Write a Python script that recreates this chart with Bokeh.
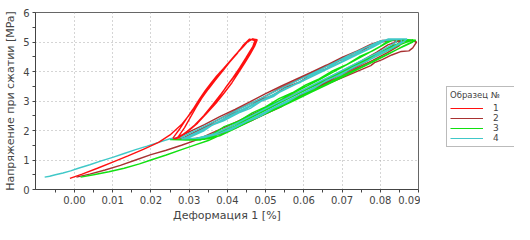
from bokeh.plotting import figure
from bokeh.layouts import row
from bokeh.models import Range1d, FixedTicker, PrintfTickFormatter, Legend, LegendItem
from bokeh.embed import file_html
from bokeh.resources import INLINE

# ---- data (strain %, stress MPa) ----
x1 = [-0.0012, 0.002, 0.006, 0.010, 0.014, 0.018, 0.022, 0.025, 0.028, 0.0305, 0.0325, 0.035, 0.0375, 0.040, 0.042, 0.0442, 0.0458, 0.0468,
      0.0475, 0.0462, 0.0448, 0.0432, 0.0415, 0.0398, 0.0378, 0.0358, 0.0336, 0.0310, 0.0285, 0.0262,
      0.0258, 0.0275, 0.0293, 0.0310, 0.0326, 0.0342, 0.0358, 0.0372, 0.0390, 0.0410, 0.0430, 0.0450, 0.0465,
      0.0478, 0.0472, 0.0460, 0.0446, 0.0430, 0.0412, 0.0392, 0.0370, 0.0346, 0.0322, 0.0298, 0.0275, 0.0265,
      0.0270, 0.0288, 0.0302, 0.0318, 0.0333, 0.0350, 0.0368, 0.0388, 0.0405, 0.0425, 0.0442, 0.0458,
      0.0472, 0.0466, 0.0453, 0.0438, 0.0422, 0.0404, 0.0384, 0.0362, 0.0338, 0.0314, 0.0290, 0.0270]
y1 = [0.38, 0.52, 0.72, 0.93, 1.14, 1.36, 1.60, 1.85, 2.20, 2.60, 3.00, 3.45, 3.85, 4.25, 4.55, 4.85, 5.08, 5.10,
      5.02, 4.75, 4.45, 4.12, 3.80, 3.50, 3.12, 2.78, 2.45, 2.12, 1.88, 1.72,
      1.75, 2.05, 2.40, 2.72, 3.05, 3.35, 3.62, 3.85, 4.10, 4.40, 4.70, 4.98, 5.10,
      5.08, 4.88, 4.60, 4.30, 3.98, 3.62, 3.28, 2.92, 2.58, 2.25, 1.98, 1.78, 1.72,
      1.76, 2.10, 2.42, 2.78, 3.10, 3.40, 3.70, 4.02, 4.30, 4.60, 4.90, 5.10,
      5.05, 4.82, 4.52, 4.20, 3.90, 3.60, 3.25, 2.88, 2.50, 2.18, 1.92, 1.75]

x2 = [0.0005, 0.004, 0.008, 0.012, 0.016, 0.020, 0.024, 0.028, 0.032, 0.036,
      0.040, 0.045, 0.050, 0.055, 0.060, 0.065, 0.070, 0.075, 0.079, 0.082, 0.085, 0.088, 0.0895,
      0.0885, 0.0875, 0.0855, 0.083, 0.0805, 0.0785, 0.0775, 0.0735, 0.0695, 0.0655, 0.061, 0.057, 0.054, 0.050, 0.046, 0.042, 0.038, 0.034, 0.030,
      0.027, 0.030, 0.034, 0.038, 0.042, 0.046, 0.050, 0.054, 0.058, 0.062, 0.066, 0.070, 0.074, 0.0775, 0.080, 0.0835, 0.086,
      0.085, 0.082, 0.078, 0.074, 0.070, 0.066, 0.062, 0.058, 0.054, 0.050, 0.046, 0.042, 0.038, 0.034, 0.030,
      0.029, 0.033, 0.037, 0.041, 0.045, 0.049, 0.053, 0.057, 0.061, 0.065, 0.069, 0.073, 0.077, 0.0805, 0.084,
      0.0835, 0.080, 0.076, 0.072, 0.068, 0.064, 0.060, 0.056, 0.052, 0.048, 0.044, 0.040, 0.036, 0.031,
      0.028, 0.031, 0.035, 0.038, 0.041, 0.045, 0.048, 0.052, 0.055, 0.059, 0.062, 0.066, 0.069, 0.073, 0.0765, 0.079, 0.0825, 0.0855,
      0.0845, 0.0815, 0.078, 0.0745, 0.071, 0.0675, 0.064, 0.0605, 0.057, 0.0535, 0.050, 0.0465, 0.043, 0.039, 0.035, 0.031]
y2 = [0.42, 0.52, 0.66, 0.82, 1.00, 1.18, 1.33, 1.50, 1.68, 1.92,
      2.15, 2.45, 2.77, 3.08, 3.38, 3.70, 4.02, 4.35, 4.65, 4.90, 5.04, 5.05, 5.00,
      4.80, 4.70, 4.68, 4.56, 4.40, 4.30, 4.20, 3.98, 3.76, 3.55, 3.30, 3.05, 2.80, 2.56, 2.32, 2.08, 1.88, 1.75, 1.71,
      1.75, 1.95, 2.20, 2.47, 2.72, 2.98, 3.25, 3.50, 3.74, 3.98, 4.22, 4.48, 4.70, 4.92, 5.03, 5.06, 5.02,
      4.88, 4.65, 4.38, 4.12, 3.85, 3.60, 3.34, 3.08, 2.82, 2.57, 2.32, 2.08, 1.88, 1.74, 1.72,
      1.78, 2.05, 2.33, 2.60, 2.85, 3.10, 3.38, 3.62, 3.88, 4.12, 4.38, 4.62, 4.88, 5.05, 5.05,
      4.90, 4.62, 4.32, 4.05, 3.78, 3.50, 3.24, 2.98, 2.72, 2.46, 2.20, 1.98, 1.80, 1.72,
      1.72, 1.90, 2.15, 2.30, 2.55, 2.75, 3.00, 3.20, 3.45, 3.65, 3.90, 4.10, 4.35, 4.55, 4.80, 4.98, 5.05, 5.05,
      4.92, 4.70, 4.48, 4.22, 4.02, 3.75, 3.55, 3.28, 3.08, 2.80, 2.60, 2.34, 2.15, 1.92, 1.78, 1.71]

x3 = [0.0016, 0.005, 0.009, 0.013, 0.017, 0.020, 0.024, 0.028, 0.032, 0.035,
      0.040, 0.045, 0.050, 0.055, 0.060, 0.065, 0.070, 0.075, 0.080, 0.085, 0.0885, 0.0893,
      0.087, 0.0825, 0.080, 0.076, 0.072, 0.068, 0.064, 0.060, 0.056, 0.052, 0.048, 0.044, 0.040, 0.036, 0.033, 0.029, 0.026,
      0.028, 0.033, 0.037, 0.041, 0.045, 0.049, 0.053, 0.057, 0.061, 0.065, 0.069, 0.073, 0.077, 0.081, 0.085, 0.0885,
      0.086, 0.082, 0.078, 0.074, 0.070, 0.066, 0.062, 0.058, 0.054, 0.050, 0.046, 0.042, 0.038, 0.035, 0.030, 0.025,
      0.027, 0.034, 0.038, 0.042, 0.046, 0.050, 0.054, 0.058, 0.062, 0.066, 0.070, 0.074, 0.078, 0.082, 0.086, 0.0893,
      0.0835, 0.0815, 0.078, 0.0745, 0.071, 0.0675, 0.064, 0.0605, 0.057, 0.0535, 0.050, 0.0465, 0.043, 0.039, 0.036, 0.031, 0.026]
y3 = [0.42, 0.50, 0.60, 0.72, 0.87, 1.00, 1.17, 1.35, 1.53, 1.66,
      1.95, 2.28, 2.60, 2.90, 3.22, 3.52, 3.85, 4.15, 4.47, 4.78, 5.00, 5.06,
      5.08, 5.07, 4.85, 4.56, 4.28, 4.00, 3.72, 3.45, 3.18, 2.90, 2.62, 2.35, 2.08, 1.82, 1.68, 1.68, 1.69,
      1.70, 1.72, 1.90, 2.15, 2.40, 2.65, 2.90, 3.15, 3.40, 3.65, 3.90, 4.15, 4.40, 4.65, 4.90, 5.07,
      5.02, 4.78, 4.52, 4.26, 4.00, 3.74, 3.48, 3.22, 2.95, 2.68, 2.42, 2.15, 1.90, 1.72, 1.68, 1.69,
      1.70, 1.70, 1.82, 2.06, 2.32, 2.56, 2.80, 3.05, 3.30, 3.55, 3.80, 4.06, 4.32, 4.58, 4.86, 5.06,
      5.08, 4.95, 4.70, 4.50, 4.22, 4.02, 3.75, 3.55, 3.28, 3.08, 2.80, 2.60, 2.32, 2.12, 1.86, 1.70, 1.69]

x4 = [-0.0078, -0.0065, -0.005, -0.003, -0.001, 0.001, 0.004, 0.007, 0.010, 0.013, 0.016, 0.019, 0.022, 0.025, 0.028,
      0.032, 0.036, 0.040, 0.044, 0.048, 0.052, 0.056, 0.060, 0.064, 0.068, 0.072, 0.076, 0.080, 0.083, 0.087,
      0.0855, 0.082, 0.078, 0.074, 0.070, 0.066, 0.062, 0.058, 0.054, 0.050, 0.046, 0.042, 0.038, 0.034, 0.030,
      0.029, 0.033, 0.037, 0.041, 0.045, 0.049, 0.053, 0.057, 0.061, 0.065, 0.069, 0.073, 0.077, 0.081, 0.0845,
      0.084, 0.0805, 0.0765, 0.0725, 0.0685, 0.0645, 0.0605, 0.0565, 0.0525, 0.0485, 0.0445, 0.0405, 0.0365, 0.032, 0.028,
      0.030, 0.034, 0.038, 0.042, 0.046, 0.050, 0.054, 0.058, 0.062, 0.066, 0.070, 0.074, 0.078, 0.0815, 0.0855,
      0.0855, 0.083, 0.0795, 0.0765, 0.073, 0.0695, 0.066, 0.0625, 0.059, 0.0555, 0.052, 0.0485, 0.045, 0.041, 0.037, 0.033, 0.029,
      0.031, 0.034, 0.036, 0.039, 0.043, 0.046, 0.049, 0.052, 0.055, 0.059, 0.062, 0.066, 0.069, 0.073, 0.076, 0.079, 0.082, 0.086]
y4 = [0.42, 0.45, 0.50, 0.56, 0.63, 0.72, 0.84, 0.97, 1.09, 1.22, 1.35, 1.47, 1.60, 1.72, 1.78,
      2.02, 2.27, 2.52, 2.78, 3.04, 3.30, 3.55, 3.80, 4.05, 4.30, 4.56, 4.80, 5.04, 5.10, 5.10,
      4.96, 4.72, 4.45, 4.20, 3.94, 3.68, 3.42, 3.16, 2.90, 2.64, 2.38, 2.13, 1.90, 1.76, 1.72,
      1.76, 2.00, 2.26, 2.52, 2.78, 3.03, 3.28, 3.53, 3.78, 4.03, 4.28, 4.53, 4.78, 5.05, 5.10,
      4.98, 4.72, 4.46, 4.20, 3.94, 3.68, 3.42, 3.16, 2.90, 2.64, 2.38, 2.12, 1.88, 1.74, 1.72,
      1.80, 2.05, 2.30, 2.56, 2.82, 3.07, 3.32, 3.57, 3.82, 4.07, 4.32, 4.57, 4.82, 5.06, 5.10,
      5.00, 4.80, 4.60, 4.35, 4.15, 3.88, 3.70, 3.42, 3.22, 2.95, 2.75, 2.48, 2.30, 2.03, 1.86, 1.74, 1.72,
      1.82, 2.00, 2.18, 2.33, 2.60, 2.75, 3.00, 3.15, 3.42, 3.62, 3.90, 4.10, 4.36, 4.55, 4.80, 4.95, 5.10, 5.10]

series_names = ["1", "2", "3", "4"]
series_colors = ["#ff1010", "#a83232", "#10e010", "#40c8c8"]
legend_title = "Образец №"
x_ticks = [0.00, 0.01, 0.02, 0.03, 0.04, 0.05, 0.06, 0.07, 0.08, 0.09]
x_minor = [-0.005, 0.005, 0.015, 0.025, 0.035, 0.045, 0.055, 0.065, 0.075, 0.085]
y_ticks = [0, 1, 2, 3, 4, 5, 6]
y_minor = [0.5, 1.5, 2.5, 3.5, 4.5, 5.5]

FONT = "DejaVu Sans"
TXT = "#444444"

p = figure(width=420, height=224, output_backend="svg", toolbar_location=None,
           x_range=Range1d(-0.0102, 0.09), y_range=Range1d(0, 6),
           min_border_left=35, min_border_top=12, min_border_bottom=0, min_border_right=2,
           x_axis_label="Деформация 1 [%]", y_axis_label="Напряжение при сжатии [MPa]")
p.background_fill_color = "white"
p.border_fill_color = "white"
p.outline_line_color = "#666666"

p.xaxis.ticker = FixedTicker(ticks=x_ticks, minor_ticks=x_minor)
p.yaxis.ticker = FixedTicker(ticks=y_ticks, minor_ticks=y_minor)
p.xaxis.formatter = PrintfTickFormatter(format="%.2f")
for ax in (p.xaxis[0], p.yaxis[0]):
    ax.axis_line_color = "#444444"
    ax.major_tick_line_color = "#444444"
    ax.minor_tick_line_color = "#444444"
    ax.major_tick_in = 0
    ax.major_tick_out = 3
    ax.minor_tick_in = 0
    ax.minor_tick_out = 3
    ax.major_label_text_font = FONT
    ax.major_label_text_font_size = "10px"
    ax.major_label_text_color = TXT
    ax.axis_label_text_font = FONT
    ax.axis_label_text_font_size = "11px"
    ax.axis_label_text_font_style = "normal"
    ax.axis_label_text_color = TXT
p.xaxis.major_label_standoff = 3
p.xaxis.axis_label_standoff = 2
p.yaxis.major_label_standoff = 3
p.yaxis.axis_label_standoff = 3

for g in (p.xgrid[0], p.ygrid[0]):
    g.grid_line_color = "#aaaaaa"
    g.grid_line_dash = "1 3"
    g.grid_line_width = 1

xs = [x1, x2, x3, x4]
ys = [y1, y2, y3, y4]
for i in [1, 2, 3, 0]:
    p.line(xs[i], ys[i], line_color=series_colors[i], line_width=1.4)

# legend panel (separate narrow figure to the right of the plot frame)
q = figure(width=94, height=224, output_backend="svg", toolbar_location=None,
           x_range=Range1d(1, 2), y_range=Range1d(10, 11),
           x_axis_location=None, y_axis_location=None,
           min_border_left=0, min_border_right=0, min_border_top=0, min_border_bottom=0)
q.outline_line_color = None
q.grid.visible = False
q.background_fill_color = "white"
q.border_fill_color = "white"
proxies = [q.line(xs[i], ys[i], line_color=series_colors[i], line_width=1.2) for i in range(4)]
items = [LegendItem(label=series_names[i], renderers=[proxies[i]]) for i in range(4)]
legend = Legend(items=items, title=legend_title, location=(26, 42))
legend.title_text_font = FONT
legend.title_text_font_size = "8.5px"
legend.title_text_font_style = "normal"
legend.title_text_color = TXT
legend.title_standoff = 3
legend.label_text_font = FONT
legend.label_text_font_size = "9px"
legend.label_text_color = TXT
legend.label_standoff = 10
legend.glyph_width = 33
legend.glyph_height = 10
legend.label_height = 10
legend.spacing = 0
legend.padding = 3
legend.margin = 0
legend.border_line_color = "#777777"
legend.border_line_width = 1
legend.background_fill_alpha = 1
q.add_layout(legend)

layout = row(p, q)
open("out.html", "w").write(file_html(layout, INLINE))
